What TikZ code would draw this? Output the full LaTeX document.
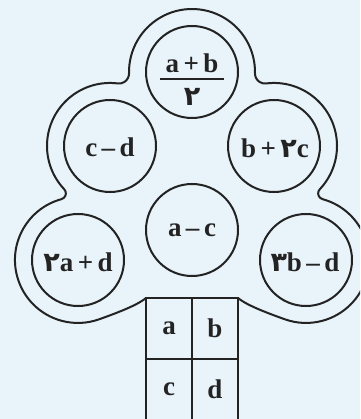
\documentclass[tikz,border=0pt]{standalone}
\usepackage{fontspec}
\setmainfont{Liberation Serif}
\newfontfamily\fa[Script=Arabic]{DejaVu Sans}
\definecolor{bg}{RGB}{232,243,250}
\definecolor{ink}{RGB}{35,35,35}
\newcommand\halfoutline{%
  (192,9) arc[start angle=270, end angle=178.8, radius=63]
  arc[start angle=-1.2, end angle=97.1, radius=10]
  arc[start angle=277.1, end angle=136.6, radius=63]
  arc[start angle=-43.4, end angle=74.8, radius=6]
  arc[start angle=254.8, end angle=70, radius=63]
  .. controls (113.6,314.1) and (136.8,305.7) .. (146,298)}
\begin{document}
\begin{tikzpicture}[x=1pt,y=-1pt,
  outline/.style={draw=ink, line width=2pt, line join=round},
  innerc/.style={circle, draw=ink, line width=2pt, minimum size=92pt, inner sep=0pt},
  lbl/.style={font=\fontsize{27}{29}\selectfont\bfseries, text=ink, inner sep=0pt},
  gridline/.style={draw=ink, line width=2pt}]
\fill[bg] (0,0) rectangle (360,419);
\useasboundingbox (0,0) rectangle (360,419);
\clip (0,0) rectangle (360,419);
% outer outline of the crown
\draw[outline] \halfoutline;
\begin{scope}[shift={(384,0)}, xscale=-1]
  \draw[outline] \halfoutline;
\end{scope}
% inner circles
\node[innerc] (cT)  at (192,72)  {};
\node[innerc] (cUL) at (110,146) {};
\node[innerc] (cUR) at (274,146) {};
\node[innerc] (cM)  at (192,230) {};
\node[innerc] (cBL) at (78,260)  {};
\node[innerc] (cBR) at (306,260) {};
% labels
\node[lbl] (tnum) at (192,63) {a\,+\,b};
\coordinate (barL) at (160,79);
\coordinate (barR) at (224,79);
\draw[draw=ink, line width=1.2pt] (barL) -- (barR);
\node[lbl] (tden) at (192,97) {\fa ۲};
\node[lbl] (lUL) at (110,147) {c\,–\,d};
\node[lbl] (lUR) at (275,148) {b\,+\,{\fa ۲}c};
\node[lbl] (lM)  at (192,230) {a\,–\,c};
\node[lbl] (lBL) at (78,262)  {{\fa ۲}a\,+\,d};
\node[lbl] (lBR) at (305,262) {{\fa ۳}b\,–\,d};
% trunk grid
\coordinate (gTL) at (146,298);
\coordinate (gBR) at (238,430);
\coordinate (gTM) at (192,298);
\coordinate (gBM) at (192,430);
\coordinate (gML) at (146,359);
\coordinate (gMR) at (238,359);
\draw[gridline] (gTL) rectangle (gBR);
\draw[gridline] (gTM) -- (gBM);
\draw[gridline] (gML) -- (gMR);
\node[lbl] (ga) at (169,328) {a};
\node[lbl] (gb) at (215,328) {b};
\node[lbl] (gc) at (169,389) {c};
\node[lbl] (gd) at (215,389) {d};
\end{tikzpicture}
\end{document}
